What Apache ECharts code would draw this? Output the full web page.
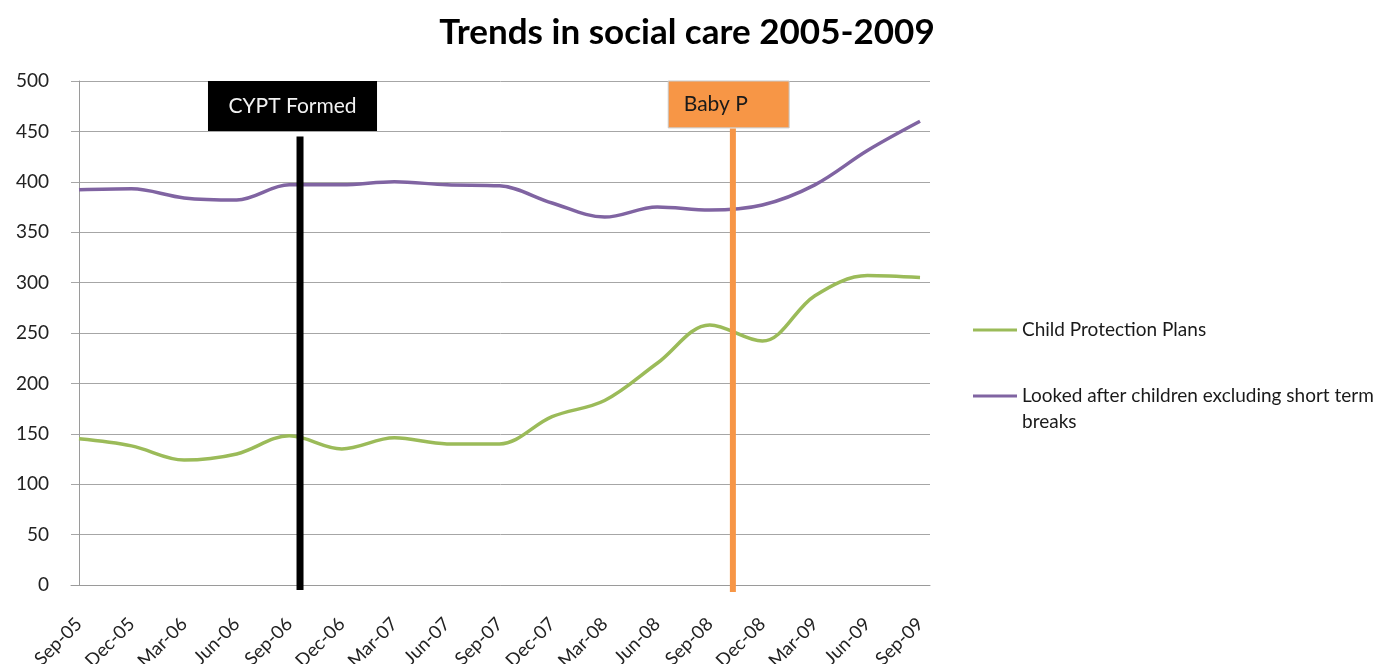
<!DOCTYPE html>
<html><head><meta charset="utf-8">
<script src="https://cdn.jsdelivr.net/npm/echarts@6/dist/echarts.min.js"></script>
<style>html,body{margin:0;padding:0;background:#fff}#c{width:1390px;height:664px}</style>
</head><body><div id="c"></div>
<script>
const categories = ['Sep-05','Dec-05','Mar-06','Jun-06','Sep-06','Dec-06','Mar-07','Jun-07','Sep-07','Dec-07','Mar-08','Jun-08','Sep-08','Dec-08','Mar-09','Jun-09','Sep-09'];
const childProtection = [145,138,124,130,148,135,146,140,140,167,183,220,258,242,287,307,305];
const lookedAfter = [392,393,384,382,397,397,400,397,396,379,365,375,372,377,397,431,460];
const yTicks = [0,50,100,150,200,250,300,350,400,450,500];
const eventNames = ['CYPT Formed','Baby P'];
const eventX = [4.205, 12.44];
const eventLineTop = [445, 453];
const eventLineBottom = [-5, -7];
const eventBoxX0 = [2.454, 11.21];
const eventBoxX1 = [5.67, 13.51];
const eventBoxY0 = [450.5, 453.5];
const eventBoxY1 = [500, 500];
const FONT = 'Lato';
const chart = echarts.init(document.getElementById('c'));
const toPairs = arr => arr.map((v,i)=>[i,v]);
const eventColors = ['#000','#f79646'];
const eventWidths = [7,6];
chart.setOption({
  animation:false,
  title:{text:'Trends in social care 2005-2009', left:682, top:10, textAlign:'center',
    textStyle:{fontFamily:FONT, fontSize:35, fontWeight:'bold', color:'#000'}},
  grid:{left:71, right:460, top:81, bottom:79, containLabel:false, outerBoundsMode:'none'},
  legend:{orient:'vertical', left:968, top:312, itemWidth:44, itemHeight:3, itemGap:14,
    icon:'rect',
    data:['Child Protection Plans','Looked after children excluding short term breaks'],
    formatter: n => n.indexOf(' breaks')>0 ? '\n'+n.replace(' breaks','\nbreaks') : n,
    textStyle:{fontFamily:FONT, fontSize:19, color:'#1a1a1a', lineHeight:26}},
  xAxis:{type:'value', min:-0.152, max:16.19,
    axisLine:{show:true, lineStyle:{color:'#9a9a9a', width:1}},
    axisTick:{show:false}, splitLine:{show:false},
    axisLabel:{customValues:categories.map((c,i)=>i), formatter:v=>categories[Math.round(v)],
      rotate:45, margin:36, fontFamily:FONT, fontSize:18.5, color:'#222'}},
  yAxis:{type:'value', min:0, max:500, interval:50,
    axisLine:{show:true, lineStyle:{color:'#9a9a9a'}}, axisTick:{show:false},
    splitLine:{lineStyle:{color:'#a6a6a6', width:1}},
    axisLabel:{margin:22, fontFamily:FONT, fontSize:19, color:'#222',
      formatter:v=>yTicks.includes(v)?String(v):''}},
  series:[
    {name:'Child Protection Plans', type:'line', data:toPairs(childProtection), smooth:0.35,
      showSymbol:false, lineStyle:{color:'#9bbb59', width:3.5}, itemStyle:{color:'#9bbb59'}, z:2},
    {name:'Looked after children excluding short term breaks', type:'line', data:toPairs(lookedAfter), smooth:0.35,
      showSymbol:false, lineStyle:{color:'#8064a2', width:3.5}, itemStyle:{color:'#8064a2'}, z:2},
    {name:'eventLines', type:'custom', clip:false, z:5, silent:true,
      data: eventX.map((x,i)=>[x, eventLineTop[i], eventLineBottom[i], i]),
      renderItem:(params, api)=>{
        const i = api.value(3);
        const p0 = api.coord([api.value(0), api.value(1)]);
        const p1 = api.coord([api.value(0), api.value(2)]);
        return {type:'line', shape:{x1:p0[0], y1:p0[1], x2:p1[0], y2:p1[1]},
          style:{stroke:eventColors[i], lineWidth:eventWidths[i]}};
      }},
    {name:'eventBoxes', type:'line', data:[], clip:false, z:4,
      markArea:{silent:true,
        data:[
          [{coord:[eventBoxX0[0], eventBoxY1[0]], itemStyle:{color:'#000', borderWidth:0},
            label:{show:true, position:'inside', color:'#f2f2f2', fontFamily:FONT, fontSize:21, formatter:eventNames[0]}},
           {coord:[eventBoxX1[0], eventBoxY0[0]]}],
          [{coord:[eventBoxX0[1], eventBoxY1[1]], itemStyle:{color:'#f79646', borderColor:'#c8c8c8', borderWidth:1},
            label:{show:true, position:'insideLeft', distance:16, color:'#1a1a1a', fontFamily:FONT, fontSize:21, formatter:eventNames[1]}},
           {coord:[eventBoxX1[1], eventBoxY0[1]]}]
        ]}
    }
  ]
});
</script></body></html>
